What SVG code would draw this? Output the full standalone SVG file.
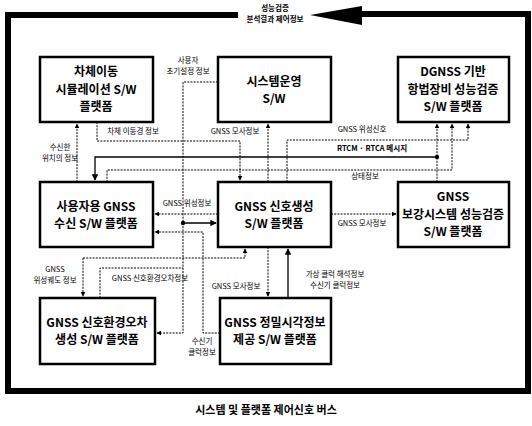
<svg xmlns="http://www.w3.org/2000/svg" width="532" height="426" viewBox="0 0 532 426">
<defs>
<style>
.box{fill:#fff;stroke:#000;stroke-width:2.5}
.bt{font-family:"Noto Sans CJK KR","Noto Sans",sans-serif;font-size:12px;font-weight:bold;text-anchor:middle;fill:#000}
.lb{font-family:"Noto Sans CJK KR","Noto Sans",sans-serif;font-size:7.5px;text-anchor:middle;fill:#000}
.dl{fill:none;stroke:#000;stroke-width:1;stroke-dasharray:2 1.2}
.sl{fill:none;stroke:#000;stroke-width:1.3}
.frame{fill:none;stroke:#000;stroke-width:6}
</style>
<marker id="ah" viewBox="0 0 8 8" refX="7" refY="4" markerWidth="5" markerHeight="5" orient="auto"><path d="M0 0 L8 4 L0 8 z" fill="#000"/></marker>
</defs>
<rect width="532" height="426" fill="#fff"/>
<g id="bus">
<path class="frame" d="M238 15 H8 V391 H528 V14 H360"/>
<polygon points="310,15 362,6 362,25" fill="#000"/>
<text class="lb" x="275" y="11" font-weight="bold">성능검증</text>
<text class="lb" x="275" y="22" font-weight="bold">분석결과 제어정보</text>
<text x="266" y="414" style="font-family:'Noto Sans CJK KR',sans-serif;font-size:11px;font-weight:bold;text-anchor:middle">시스템 및 플랫폼 제어신호 버스</text>
</g>
<g id="connectors">
<path class="dl" d="M97 122 V141 H240 V180" marker-end="url(#ah)"/>
<text class="lb" x="133" y="134">차체 이동경 정보</text>
<path class="dl" d="M77 182 V124" marker-end="url(#ah)"/>
<text class="lb" x="60" y="150">수신한</text>
<text class="lb" x="60" y="161">위치의 정보</text>
<path class="dl" d="M268 182 V124" marker-end="url(#ah)"/>
<text class="lb" x="235" y="134">GNSS 모사정보</text>
<path class="dl" d="M287 182 V140 H468 V124" marker-end="url(#ah)"/>
<text class="lb" x="362" y="132">GNSS 위성신호</text>
<path class="dl" d="M437 182 V124" marker-end="url(#ah)"/>
<path class="sl" d="M437 157 H95 V180" marker-end="url(#ah)"/>
<circle cx="437" cy="157" r="2.2"/>
<text class="lb" x="372" y="151" font-weight="bold">RTCM · RTCA 메시지</text>
<path class="dl" d="M107 182 V170 H452 V124" marker-end="url(#ah)"/>
<text class="lb" x="365" y="179">상태정보</text>
<path class="dl" d="M218 82 H183 V333 H157" marker-end="url(#ah)"/>
<path class="sl" d="M183 223 H216" marker-end="url(#ah)"/>
<circle cx="183" cy="223" r="2.2"/>
<text class="lb" x="188" y="63">사용자</text>
<text class="lb" x="188" y="74">초기설정 정보</text>
<path class="dl" d="M218 214 H155" marker-end="url(#ah)"/>
<text class="lb" x="187" y="206">GNSS 위성정보</text>
<path class="dl" d="M220 333 H203 V232 H155" marker-end="url(#ah)"/>
<text class="lb" x="202" y="344">수신기</text>
<text class="lb" x="202" y="355">클럭정보</text>
<path class="dl" d="M83 258 H245 V249" marker-end="url(#ah)"/>
<path class="dl" d="M83 258 V296" marker-end="url(#ah)"/>
<text class="lb" x="55" y="272">GNSS</text>
<text class="lb" x="55" y="283">위성궤도 정보</text>
<path class="dl" d="M100 298 V268 H183"/>
<text class="lb" x="150" y="281">GNSS 신호환경오차정보</text>
<path class="dl" d="M268 247 V296" marker-end="url(#ah)"/>
<text class="lb" x="236" y="289">GNSS 모사정보</text>
<path class="sl" d="M288 298 V249" marker-end="url(#ah)"/>
<text class="lb" x="335" y="277">가상 클럭 해석정보</text>
<text class="lb" x="335" y="288">수신기 클럭정보</text>
<path class="dl" d="M331 214 H396" marker-end="url(#ah)"/>
<text class="lb" x="362" y="226">GNSS 모사정보</text>
</g>
<g id="n1"><rect class="box" x="40" y="57" width="113" height="65"/>
<text class="bt" x="96" y="76">차체이동</text><text class="bt" x="96" y="93.5">시뮬레이션 S/W</text><text class="bt" x="96" y="111">플랫폼</text></g>
<g id="n2"><rect class="box" x="218" y="57" width="113" height="65"/>
<text class="bt" x="274" y="85.5">시스템운영</text><text class="bt" x="274" y="103">S/W</text></g>
<g id="n3"><rect class="box" x="398" y="57" width="111" height="65"/>
<text class="bt" x="453" y="76">DGNSS 기반</text><text class="bt" x="453" y="93.5">항법장비 성능검증</text><text class="bt" x="453" y="111">S/W 플랫폼</text></g>
<g id="n4"><rect class="box" x="40" y="182" width="113" height="65"/>
<text class="bt" x="96" y="210.5">사용자용 GNSS</text><text class="bt" x="96" y="228">수신 S/W 플랫폼</text></g>
<g id="n5"><rect class="box" x="218" y="182" width="113" height="65"/>
<text class="bt" x="274" y="210.5">GNSS 신호생성</text><text class="bt" x="274" y="228">S/W 플랫폼</text></g>
<g id="n6"><rect class="box" x="398" y="182" width="111" height="65"/>
<text class="bt" x="453" y="201">GNSS</text><text class="bt" x="453" y="218.5">보강시스템 성능검증</text><text class="bt" x="453" y="236">S/W 플랫폼</text></g>
<g id="n7"><rect class="box" x="40" y="298" width="115" height="66"/>
<text class="bt" x="97" y="326.5">GNSS 신호환경오차</text><text class="bt" x="97" y="344">생성 S/W 플랫폼</text></g>
<g id="n8"><rect class="box" x="220" y="298" width="111" height="66"/>
<text class="bt" x="275" y="326.5">GNSS 정밀시각정보</text><text class="bt" x="275" y="344">제공 S/W 플랫폼</text></g>
</svg>
